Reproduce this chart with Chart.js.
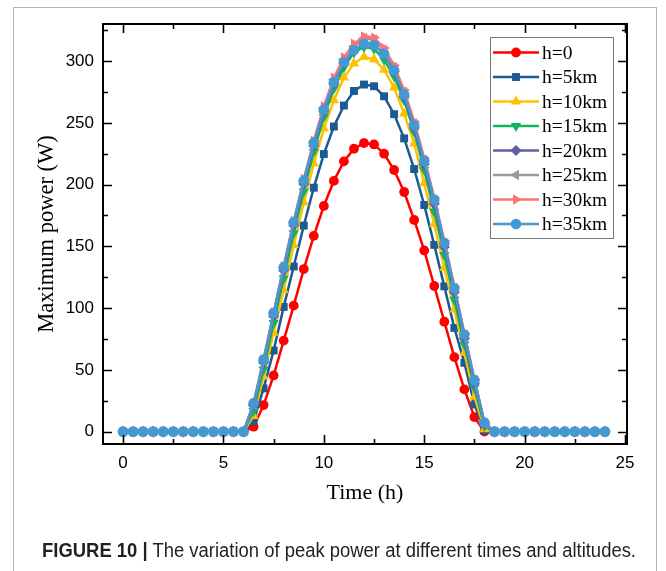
<!DOCTYPE html>
<html>
<head>
<meta charset="utf-8">
<script src="https://cdn.jsdelivr.net/npm/chart.js@4.4.1/dist/chart.umd.min.js"></script>
<style>
  html, body { margin: 0; padding: 0; background: #fff; }
  #wrap { position: relative; width: 666px; height: 571px; overflow: hidden; }
  #card { position: absolute; left: 13px; top: 7px; width: 644px; height: 600px; border: 1.5px solid #b4b4b4; box-sizing: border-box; }
  canvas { position: absolute; left: 0; top: 0; }
  #caption { position: absolute; left: 42px; top: 539px; white-space: nowrap; font-family: "Liberation Sans Narrow", "Arial Narrow", "Liberation Sans", Arial, sans-serif; font-size: 20px; color: #231f20; transform-origin: 0 0; }
  #caption b { font-weight: bold; }
</style>
</head>
<body>
<div id="wrap">
  <div id="card"></div>
  <canvas id="c" width="666" height="571"></canvas>
  <div id="caption"><b>FIGURE 10 |</b> The variation of peak power at different times and altitudes.</div>
</div>
<script>
const hours = [0,0.5,1,1.5,2,2.5,3,3.5,4,4.5,5,5.5,6,6.5,7,7.5,8,8.5,9,9.5,10,10.5,11,11.5,12,12.5,13,13.5,14,14.5,15,15.5,16,16.5,17,17.5,18,18.5,19,19.5,20,20.5,21,21.5,22,22.5,23,23.5,24];

const seriesNames = ["h=0","h=5km","h=10km","h=15km","h=20km","h=25km","h=30km","h=35km"];

const p0 = [0,0,0,0,0,0,0,0,0,0,0,0,0, 4,21.5,45.5,73.7,102,131.6,158.5,182.7,203,218.8,229,233.6,232.5,225,211.8,194,171.4,146.7,117.9,89,60.3,34.2,11.8,0, 0,0,0,0,0,0,0,0,0,0,0,0];
const p5 = [0,0,0,0,0,0,0,0,0,0,0,0,0, 8.6,35,65.7,101,133.7,166.8,197.5,224.7,247,264,275.8,281,279.6,271.5,257,237.4,212.6,183.5,151.2,117.6,84,55.7,22,1, 0,0,0,0,0,0,0,0,0,0,0,0];
const p10 = [0,0,0,0,0,0,0,0,0,0,0,0,0, 12.6,44.7,80,114.4,151,185.4,217,245.4,268.3,286.6,298,303.3,301.4,293,278.5,257.5,233.3,201,168,132.4,98.8,63.8,28.3,2, 0,0,0,0,0,0,0,0,0,0,0,0];
const p15 = [0,0,0,0,0,0,0,0,0,0,0,0,0, 16.7,50.3,88,124,160.7,194.4,226.6,254.8,277.7,295,307,311.4,310,301,287.7,268.3,242.7,211.8,178,143,106.8,70.5,35.5,4.6, 0,0,0,0,0,0,0,0,0,0,0,0];
const p20 = [0,0,0,0,0,0,0,0,0,0,0,0,0, 21,56,93.5,130.5,167,200.5,231.5,259,281.5,298,308.5,314.5,313.5,305.5,291.5,271,246,216.5,184.5,149.5,113,75.5,39,6, 0,0,0,0,0,0,0,0,0,0,0,0];
const p25 = [0,0,0,0,0,0,0,0,0,0,0,0,0, 22,57.5,95.5,132.5,169,203,234,262,285,301.5,312,318.5,317.5,309,295,275,249.5,220,188,153,116.5,78.5,42,7, 0,0,0,0,0,0,0,0,0,0,0,0];
const p30 = [0,0,0,0,0,0,0,0,0,0,0,0,0, 23,58.5,96.5,134,170.5,204.5,235.5,263.5,286.5,303,314,320,319,310.5,296.5,276.5,251,221.5,189.5,154.5,117.5,79.5,42.5,7.5, 0,0,0,0,0,0,0,0,0,0,0,0];
const p35 = [0,0,0,0,0,0,0,0,0,0,0,0,0, 22.9,58.4,96,133,169.5,203,233.8,260.8,283,299,309,314,313,306,292.5,273,248,219,187.6,152.6,116,78.6,41.7,7.3, 0,0,0,0,0,0,0,0,0,0,0,0];

const xTickValues = [0,5,10,15,20,25];
const yTickValues = [0,50,100,150,200,250,300];

const allValues = [p0,p5,p10,p15,p20,p25,p30,p35];
const colors = ["#ff0000","#1b5b94","#ffc000","#14b35f","#5f5fa3","#9a9a9a","#ff7373","#4499d5"];
const pointStyles = ["circle","rect","triangle","triangle","rectRot","triangle","triangle","circle"];
const rotations = [0,0,0,180,0,-90,90,0];
const radii = [4.9,5.6,6,6,5.6,6,6,5.3];

const datasets = allValues.map((vals, i) => ({
  label: seriesNames[i],
  data: hours.map((h, k) => ({x: h, y: vals[k]})),
  borderColor: colors[i],
  backgroundColor: colors[i],
  borderWidth: 2.5,
  pointStyle: pointStyles[i],
  pointRotation: rotations[i],
  pointRadius: radii[i],
  pointBorderWidth: 0,
  pointBackgroundColor: colors[i],
  tension: 0,
  order: allValues.length - 1 - i
}));

const frameTicks = {
  id: 'frameTicks',
  afterDatasetsDraw(chart) {
    const {ctx, chartArea: a, scales: {x, y}} = chart;
    ctx.save();
    ctx.strokeStyle = '#000';
    ctx.lineWidth = 1.6;
    ctx.lineCap = 'butt';
    const maj = 9, min = 5;
    const xMinor = [];
    for (let i = 0; i < xTickValues.length - 1; i++) xMinor.push((xTickValues[i] + xTickValues[i+1]) / 2);
    const yMinor = [];
    for (let i = 0; i < yTickValues.length - 1; i++) yMinor.push((yTickValues[i] + yTickValues[i+1]) / 2);
    yMinor.push(yTickValues[yTickValues.length-1] + 25);
    ctx.beginPath();
    xTickValues.forEach(v => {
      const px = Math.round(x.getPixelForValue(v)) + 0.5;
      if (px < a.left - 1 || px > a.right + 1) return;
      ctx.moveTo(px, a.bottom); ctx.lineTo(px, a.bottom - maj);
      ctx.moveTo(px, a.top); ctx.lineTo(px, a.top + maj);
    });
    xMinor.forEach(v => {
      const px = Math.round(x.getPixelForValue(v)) + 0.5;
      ctx.moveTo(px, a.bottom); ctx.lineTo(px, a.bottom - min);
      ctx.moveTo(px, a.top); ctx.lineTo(px, a.top + min);
    });
    yTickValues.forEach(v => {
      const py = Math.round(y.getPixelForValue(v)) + 0.5;
      ctx.moveTo(a.left, py); ctx.lineTo(a.left + maj, py);
      ctx.moveTo(a.right, py); ctx.lineTo(a.right - maj, py);
    });
    yMinor.forEach(v => {
      const py = Math.round(y.getPixelForValue(v)) + 0.5;
      if (py < a.top) return;
      ctx.moveTo(a.left, py); ctx.lineTo(a.left + min, py);
      ctx.moveTo(a.right, py); ctx.lineTo(a.right - min, py);
    });
    ctx.stroke();
    ctx.lineWidth = 2;
    ctx.strokeRect(a.left, a.top, a.right - a.left, a.bottom - a.top);
    ctx.restore();
  }
};

const insideLegend = {
  id: 'insideLegend',
  afterDraw(chart) {
    const {ctx} = chart;
    const boxL = 490, boxT = 37, boxR = 613, boxB = 238;
    ctx.save();
    ctx.fillStyle = '#fff';
    ctx.fillRect(boxL, boxT, boxR - boxL, boxB - boxT);
    ctx.strokeStyle = '#777';
    ctx.lineWidth = 1;
    ctx.strokeRect(boxL + 0.5, boxT + 0.5, boxR - boxL, boxB - boxT);
    const rowH = 24.5, firstY = 52.5;
    ctx.font = '19.5px "Liberation Serif", "Times New Roman", serif';
    ctx.textBaseline = 'middle';
    chart.data.datasets.forEach((ds, i) => {
      const cy = firstY + i * rowH;
      ctx.strokeStyle = ds.borderColor;
      ctx.lineWidth = 2.5;
      ctx.beginPath();
      ctx.moveTo(493, cy); ctx.lineTo(539, cy);
      ctx.stroke();
      ctx.fillStyle = ds.borderColor;
      Chart.helpers.drawPoint(ctx, {pointStyle: ds.pointStyle, rotation: ds.pointRotation, radius: ds.pointRadius, borderWidth: 0}, 516, cy);
      ctx.fillStyle = '#000';
      ctx.fillText(ds.label, 542, cy + 1);
    });
    ctx.restore();
  }
};

new Chart(document.getElementById('c'), {
  type: 'line',
  data: { datasets },
  options: {
    responsive: false,
    animation: false,
    devicePixelRatio: 1,
    layout: { padding: { left: 0, right: 39, top: 24, bottom: 0 } },
    plugins: { legend: { display: false }, tooltip: { enabled: false } },
    scales: {
      x: {
        type: 'linear', min: -1, max: 25.1,
        afterBuildTicks: s => { s.ticks = xTickValues.map(v => ({value: v})); },
        afterFit: s => { s.height = 127; },
        grid: { display: false, drawTicks: false },
        border: { display: false },
        ticks: { color: '#000', padding: 9, maxRotation: 0, autoSkip: false, font: { family: '"Liberation Sans", Arial, sans-serif', size: 17 } },
        title: { display: true, text: 'Time (h)', color: '#000', padding: { top: 0, bottom: 65 }, font: { family: '"Liberation Serif", "Times New Roman", serif', size: 22 } }
      },
      y: {
        type: 'linear', min: -10, max: 330,
        afterBuildTicks: s => { s.ticks = yTickValues.map(v => ({value: v})); },
        afterFit: s => { s.width = 103; },
        grid: { display: false, drawTicks: false },
        border: { display: false },
        ticks: { color: '#000', padding: 9, autoSkip: false, font: { family: '"Liberation Sans", Arial, sans-serif', size: 17 } },
        title: { display: true, text: 'Maximum power (W)', color: '#000', padding: { top: 34, bottom: 0 }, font: { family: '"Liberation Serif", "Times New Roman", serif', size: 22.5 } }
      }
    }
  },
  plugins: [frameTicks, insideLegend]
});

const cap = document.getElementById('caption');
const w = cap.getBoundingClientRect().width;
cap.style.transform = 'scaleX(' + (594 / w) + ')';
</script>
</body>
</html>
